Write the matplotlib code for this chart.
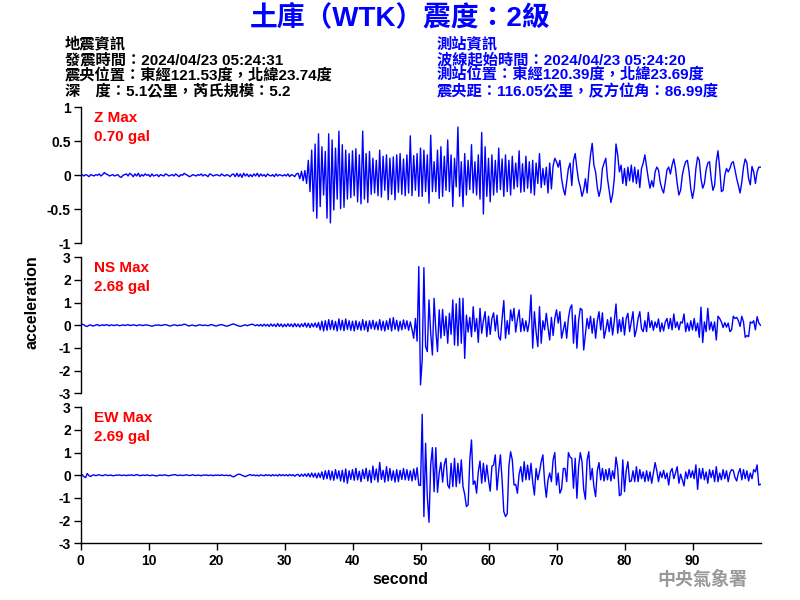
import numpy as np
import matplotlib
matplotlib.use("Agg")
import matplotlib.pyplot as plt

plt.rcParams['font.family'] = ['Liberation Sans', 'Noto Sans CJK TC', 'DejaVu Sans']
plt.rcParams['font.weight'] = 'bold'

# ---------------- data ----------------
SAMPLE_STEP = 0.25  # seconds between samples

z_accel = [
    0.00, 0.01, -0.01, 0.01, 0.00, -0.02, 0.01, 0.00, -0.01, 0.01, 0.00, 0.02, -0.01, 0.01, 0.04, 0.02, 0.01, -0.01, 0.00, 0.01,
    -0.01, 0.00, 0.01, -0.02, -0.03, 0.00, 0.01, 0.02, -0.01, 0.03, 0.01, -0.02, 0.02, -0.01, 0.03, -0.02, 0.01, -0.01, 0.02, 0.00,
    0.01, -0.02, 0.02, -0.01, 0.00, 0.01, -0.02, 0.01, 0.00, -0.01, 0.02, 0.01, -0.01, 0.00, 0.01, -0.01, 0.02, 0.00, -0.02, 0.01,
    0.00, 0.03, 0.01, 0.00, -0.02, -0.01, 0.01, 0.00, -0.01, 0.01, 0.00, 0.02, -0.01, 0.01, 0.00, -0.02, 0.02, 0.01, -0.01, 0.00,
    0.01, 0.00, -0.01, 0.02, 0.00, -0.01, 0.01, 0.00, -0.02, 0.01, 0.02, -0.02, 0.03, -0.02, 0.02, -0.03, 0.03, -0.01, 0.02, -0.02,
    0.01, -0.02, 0.02, -0.01, 0.03, -0.02, 0.02, -0.01, 0.01, -0.02, 0.02, 0.00, -0.01, 0.01, -0.02, 0.02, -0.01, 0.01, 0.00, -0.01,
    0.01, -0.01, 0.02, -0.02, 0.01, 0.00, -0.02, 0.02, 0.03, -0.05, 0.06, -0.08, 0.07, -0.12, 0.22, -0.24, 0.37, -0.53, 0.46, -0.63,
    0.61, -0.46, 0.42, -0.29, 0.35, -0.63, 0.61, -0.70, 0.52, -0.51, 0.40, -0.35, 0.65, -0.49, 0.45, -0.47, 0.37, -0.35, 0.32, -0.33,
    0.36, -0.30, 0.39, -0.39, 0.30, -0.42, 0.65, -0.35, 0.32, -0.40, 0.35, -0.28, 0.25, -0.26, 0.22, -0.30, 0.37, -0.32, 0.28, -0.22,
    0.30, -0.36, 0.25, -0.28, 0.27, -0.36, 0.30, -0.25, 0.32, -0.28, 0.24, -0.30, 0.30, -0.26, 0.58, -0.30, 0.29, -0.22, 0.32, -0.31,
    0.40, -0.31, 0.37, -0.24, 0.30, -0.41, 0.59, -0.24, 0.20, -0.24, 0.37, -0.34, 0.42, -0.31, 0.28, -0.22, 0.52, -0.24, 0.30, -0.46,
    0.25, -0.17, 0.71, -0.31, 0.20, -0.46, 0.32, -0.29, 0.22, -0.21, 0.45, -0.26, 0.20, -0.29, 0.30, -0.35, 0.63, -0.57, 0.42, -0.31,
    0.25, -0.39, 0.30, -0.29, 0.22, -0.25, 0.40, -0.21, 0.24, -0.31, 0.30, -0.24, 0.22, -0.29, 0.28, -0.20, 0.18, -0.17, 0.36, -0.25,
    0.17, -0.24, 0.28, -0.19, 0.20, -0.26, 0.22, -0.29, 0.18, -0.12, 0.32, -0.18, 0.10, -0.14, 0.12, -0.26, 0.18, -0.20, 0.14, 0.25,
    0.20, 0.12, 0.22, -0.05, -0.20, -0.29, -0.10, 0.10, 0.18, -0.15, 0.22, 0.32, 0.10, -0.08, -0.17, -0.31, -0.22, -0.05, -0.26, 0.06,
    0.30, 0.47, 0.15, 0.05, -0.18, -0.31, -0.20, 0.10, 0.18, 0.25, -0.05, -0.22, -0.40, -0.28, -0.05, 0.46, 0.30, 0.05, 0.15, -0.12,
    0.10, -0.15, 0.12, -0.08, 0.15, -0.10, 0.12, -0.12, 0.08, -0.18, 0.10, 0.18, 0.30, 0.12, -0.05, -0.19, -0.08, -0.17, 0.05, 0.12,
    0.08, -0.10, -0.20, -0.26, -0.10, 0.08, 0.12, 0.02, 0.15, 0.24, 0.10, -0.12, -0.29, -0.22, 0.00, 0.12, 0.20, 0.22, 0.05, -0.20,
    -0.34, -0.20, 0.10, 0.27, 0.22, -0.05, -0.19, -0.12, 0.08, 0.18, 0.20, -0.05, -0.22, -0.15, 0.20, 0.36, 0.10, -0.24, -0.22, 0.00,
    0.10, 0.05, 0.10, 0.18, 0.20, 0.08, -0.05, -0.15, -0.26, -0.10, 0.12, 0.24, 0.18, -0.05, -0.14, 0.13, 0.05, -0.12, 0.05, 0.12,
    0.12,
]

ns_accel = [
    0.03, 0.05, 0.02, -0.04, -0.05, 0.00, 0.02, -0.03, -0.02, 0.01, 0.03, -0.02, 0.00, 0.02, -0.01, 0.03, 0.01, -0.02, 0.02, 0.00,
    -0.01, 0.02, 0.01, -0.02, 0.00, 0.02, -0.01, 0.01, 0.03, -0.01, 0.00, 0.02, 0.01, -0.02, 0.01, 0.02, 0.00, -0.01, 0.02, 0.01,
    0.00, -0.02, -0.04, -0.02, 0.01, 0.00, 0.02, -0.01, 0.00, 0.02, 0.03, 0.01, -0.02, -0.03, 0.00, 0.02, 0.01, -0.02, 0.01, 0.00,
    0.02, 0.05, 0.03, -0.01, -0.03, 0.00, 0.01, -0.02, -0.03, 0.00, 0.02, 0.01, -0.01, 0.01, 0.00, -0.02, 0.01, 0.03, 0.01, -0.02,
    -0.03, 0.00, 0.02, 0.03, 0.01, -0.02, -0.04, -0.02, 0.01, 0.04, 0.06, 0.03, 0.00, -0.03, -0.05, -0.03, 0.00, 0.02, -0.02, 0.01,
    0.03, 0.05, 0.02, -0.02, 0.03, -0.03, 0.04, -0.04, 0.05, -0.03, 0.04, -0.05, 0.06, -0.04, 0.05, -0.06, 0.08, -0.05, 0.06, -0.07,
    0.05, -0.06, 0.07, -0.05, 0.06, -0.07, 0.08, -0.06, 0.06, -0.08, 0.07, -0.06, 0.10, -0.08, 0.09, -0.10, 0.08, -0.07, 0.10, -0.09,
    0.12, -0.20, 0.18, -0.25, 0.20, -0.22, 0.25, -0.18, 0.22, -0.20, 0.17, -0.25, 0.28, -0.20, 0.22, -0.24, 0.28, -0.18, 0.20, -0.22,
    0.18, -0.25, 0.20, -0.18, 0.15, -0.22, 0.25, -0.20, 0.18, -0.28, 0.20, -0.15, 0.22, -0.18, 0.15, -0.20, 0.25, -0.22, 0.18, -0.25,
    0.20, -0.18, 0.30, -0.25, 0.34, -0.18, 0.22, -0.25, 0.18, -0.20, 0.24, -0.15, 0.20, -0.22, 0.15, -0.18, -0.57, 0.30, -0.70, 2.59,
    -2.63, -1.53, 2.54, -0.94, -1.16, 1.12, -0.35, -1.31, 1.19, -0.20, -1.16, 0.68, -0.57, 0.70, -0.45, 0.40, -0.79, 0.53, -0.40, 1.12,
    -0.87, 0.95, -0.90, 1.19, -0.79, 1.19, -1.46, 0.45, -0.30, 0.35, -0.50, 0.82, -0.28, 0.30, -0.75, 0.75, -0.35, 0.20, 0.60, -0.50,
    0.40, -0.40, 0.30, 0.55, -0.25, 0.45, -0.50, -0.65, 0.30, 1.09, -0.57, 0.20, -0.40, 0.68, 0.20, 0.75, -0.30, 0.25, 0.68, -0.28,
    0.30, -0.25, 0.20, -0.28, 0.15, 1.34, -1.01, 0.60, -0.30, -0.94, 0.82, -0.79, 0.20, -0.20, 0.53, -0.10, -0.65, 0.35, -0.45, 0.30,
    0.68, 0.10, 0.60, -0.57, -0.20, 0.15, -0.57, 0.30, 0.75, 0.90, -0.79, 0.45, -1.01, 0.20, 0.75, 0.68, -1.09, -0.40, 0.30, -0.15,
    0.40, -0.35, 0.30, -0.57, 0.20, 0.60, -0.20, 0.55, -0.57, -0.20, 0.25, -0.28, 0.35, -0.43, 0.20, 0.94, -0.35, 0.25, -0.28, 0.35,
    -0.43, 0.30, 0.53, -0.28, 0.15, 0.60, -0.50, -0.20, 0.30, 0.60, -0.15, -0.28, 0.20, -0.28, 0.57, -0.10, 0.20, -0.22, 0.15, -0.10,
    0.28, -0.28, 0.10, -0.25, 0.15, 0.30, -0.15, 0.30, -0.20, 0.50, -0.10, 0.15, -0.20, 0.15, 0.10, 0.50, -0.28, 0.10, -0.25, 0.20,
    -0.20, 0.30, -0.25, 0.10, -0.53, 0.80, -0.76, 0.15, -0.28, 0.75, -0.20, 0.15, -0.25, 0.15, -0.65, 0.40, 0.30, 0.15, -0.10, 0.12,
    -0.08, 0.10, -0.28, -0.20, 0.40, 0.30, 0.35, 0.20, -0.05, 0.40, 0.15, -0.53, -0.45, -0.50, 0.15, 0.10, 0.20, -0.20, 0.38, 0.10,
    0.00,
]

ew_accel = [
    0.02, 0.03, -0.06, -0.10, 0.08, -0.02, -0.05, 0.00, 0.02, -0.02, 0.01, 0.02, 0.00, -0.02, 0.01, 0.02, -0.01, 0.00, 0.01, -0.02,
    -0.01, 0.01, 0.00, 0.02, -0.01, 0.00, 0.01, -0.02, 0.01, 0.00, 0.02, -0.01, 0.00, 0.03, 0.01, -0.02, 0.00, 0.01, -0.01, 0.02,
    0.00, -0.02, 0.01, 0.00, -0.02, -0.03, 0.00, 0.01, -0.01, 0.02, 0.01, -0.01, -0.02, 0.00, 0.01, 0.03, 0.02, -0.01, 0.00, 0.01,
    -0.01, 0.00, 0.02, 0.01, -0.01, 0.00, 0.02, 0.00, -0.01, 0.01, 0.00, -0.02, 0.01, 0.00, 0.02, -0.01, 0.00, 0.01, -0.02, 0.01,
    0.00, 0.01, -0.01, 0.02, 0.00, -0.01, 0.01, -0.02, 0.01, -0.04, -0.07, -0.03, 0.02, 0.05, 0.04, 0.00, -0.03, -0.06, -0.02, 0.01,
    0.03, -0.01, 0.02, -0.02, 0.01, -0.03, 0.02, 0.00, -0.02, 0.03, -0.01, 0.02, -0.03, 0.03, -0.02, 0.02, -0.03, 0.04, -0.02, 0.03,
    -0.02, 0.03, -0.03, 0.04, -0.02, 0.03, -0.04, 0.02, 0.04, -0.05, 0.05, -0.04, 0.06, -0.05, 0.08, -0.07, 0.10, -0.08, 0.09, -0.12,
    0.10, -0.10, 0.15, -0.18, 0.20, -0.15, 0.22, -0.20, 0.18, -0.22, 0.25, -0.15, 0.20, -0.25, 0.22, -0.30, 0.28, -0.35, 0.20, -0.18,
    0.25, -0.22, 0.31, -0.20, 0.18, -0.28, 0.25, -0.15, 0.31, -0.25, 0.22, -0.32, 0.41, -0.20, 0.28, -0.30, 0.57, -0.18, 0.22, -0.30,
    0.38, -0.25, 0.30, -0.22, 0.20, -0.30, 0.25, -0.28, 0.22, -0.18, 0.30, -0.20, 0.25, -0.22, 0.20, -0.25, 0.28, -0.20, 0.34, -0.43,
    -0.45, 2.69, -1.82, 1.41, -0.94, -2.07, 0.46, 1.22, -0.72, 1.22, -0.75, 0.10, 0.57, -0.30, 0.48, 0.75, -0.43, -0.57, 0.53, -0.50,
    0.75, -0.50, 0.53, -0.35, 0.68, -0.50, -0.84, -1.38, -1.30, 0.68, 1.56, -0.40, -0.25, -0.79, 0.15, 0.63, -0.35, 0.53, -0.28, 0.45,
    -0.20, -0.70, 0.40, 0.45, 0.90, -0.65, 0.20, 0.90, -0.20, -1.60, -1.82, -1.70, 0.40, 1.04, 0.68, -0.43, -0.40, -0.79, 0.05, 0.38,
    -0.28, 0.60, -0.20, 0.45, -0.20, 0.53, -0.30, -0.87, 0.30, -0.20, 0.15, 0.60, 0.90, -0.30, -0.97, -0.20, 0.10, -0.28, 0.68, 1.00,
    -0.43, 0.10, -0.79, -0.60, 0.30, 0.30, -0.28, 1.00, 0.80, 0.75, -0.57, 0.75, -1.01, 0.38, 1.00, 0.60, -0.62, -1.06, 0.68, 1.04,
    -0.20, 0.30, -0.50, -0.94, 0.20, 0.56, -0.20, 0.30, -0.25, 0.25, -0.20, 0.30, -0.25, 0.20, -0.15, 0.80, 0.30, -0.90, -0.85, 0.68,
    -0.72, 0.20, 0.60, -0.28, -0.25, 0.20, -0.28, 0.38, -0.28, 0.25, -0.15, 0.15, -0.28, 0.20, -0.25, 0.15, -0.35, 0.10, 0.56, 0.20,
    -0.28, 0.15, -0.10, 0.22, -0.15, 0.10, -0.43, 0.15, 0.30, -0.15, 0.10, 0.38, -0.35, 0.05, -0.20, -0.47, 0.15, -0.15, 0.25, -0.10,
    0.20, -0.15, 0.46, -0.62, 0.30, -0.15, 0.30, -0.20, 0.15, -0.35, 0.25, -0.10, 0.22, -0.28, 0.38, -0.28, 0.10, -0.20, 0.25, -0.15,
    0.20, -0.28, 0.10, 0.25, 0.22, -0.10, -0.25, 0.10, 0.30, -0.20, 0.25, -0.15, 0.20, -0.25, 0.10, -0.15, 0.25, 0.15, 0.46, -0.43,
    -0.40,
]

components = ["Z", "NS", "EW"]
peak_gal = [0.70, 2.68, 2.69]
y_limits = [(-1, 1), (-3, 3), (-3, 3)]
y_ticks = [[-1, -0.5, 0, 0.5, 1], [-3, -2, -1, 0, 1, 2, 3], [-3, -2, -1, 0, 1, 2, 3]]
y_ticklabels = [["-1", "-0.5", "0", "0.5", "1"],
                ["-3", "-2", "-1", "0", "1", "2", "3"],
                ["-3", "-2", "-1", "0", "1", "2", "3"]]
x_ticks = [0, 10, 20, 30, 40, 50, 60, 70, 80, 90]

title_text = "土庫（WTK）震度：2級"
quake_info = ["地震資訊",
              "發震時間：2024/04/23 05:24:31",
              "震央位置：東經121.53度，北緯23.74度",
              "深　度：5.1公里，芮氏規模：5.2"]
station_info = ["測站資訊",
                "波線起始時間：2024/04/23 05:24:20",
                "測站位置：東經120.39度，北緯23.69度",
                "震央距：116.05公里，反方位角：86.99度"]

# ---------------- figure ----------------
W, H = 800, 600
fig = plt.figure(figsize=(8, 6), dpi=100)
fig.patch.set_facecolor("white")

BLUE = "#0000ff"
RED = "#ff0000"

def fx(px):
    return px / W

def fy(py):
    return 1 - py / H

fig.text(fx(400), fy(18), title_text, color=BLUE, fontsize=20, fontweight="bold",
         ha="center", va="center")

line_y = [44, 60, 75.5, 91]
for txt, yy in zip(quake_info, line_y):
    fig.text(fx(65), fy(yy), txt, color="black", fontsize=11, fontweight="bold",
             ha="left", va="center")
for txt, yy in zip(station_info, line_y):
    fig.text(fx(437), fy(yy), txt, color=BLUE, fontsize=11, fontweight="bold",
             ha="left", va="center")

traces = [z_accel, ns_accel, ew_accel]
panel_tops = [107.3, 257.3, 407.3]
panel_h = 136.0
ax_left, ax_w = 80.5, 680.0

for i, (tr, comp) in enumerate(zip(traces, components)):
    top = panel_tops[i]
    ax = fig.add_axes([fx(ax_left), fy(top + panel_h), ax_w / W, panel_h / H])
    vals = np.asarray(tr, dtype=float)
    t = np.arange(len(vals)) * SAMPLE_STEP
    ax.plot(t, vals, color=BLUE, lw=1.0)
    ax.set_xlim(0, 100)
    ax.set_ylim(*y_limits[i])
    ax.set_yticks(y_ticks[i])
    ax.set_yticklabels(y_ticklabels[i])
    ax.set_facecolor("none")
    for s in ["top", "right"]:
        ax.spines[s].set_visible(False)
    ax.spines["left"].set_linewidth(1.0)
    ax.tick_params(axis="y", direction="out", length=5, width=1, labelsize=10, pad=2)
    if i < 2:
        ax.spines["bottom"].set_visible(False)
        ax.set_xticks([])
    else:
        ax.spines["bottom"].set_linewidth(1.0)
        ax.set_xticks(x_ticks)
        ax.set_xticklabels([str(v) for v in x_ticks])
        ax.tick_params(axis="x", direction="out", length=5, width=1, labelsize=10, pad=3)
    for lab in ax.get_xticklabels() + ax.get_yticklabels():
        lab.set_fontweight("bold")
    fig.text(fx(94), fy(top + 10.5), f"{comp} Max", color=RED, fontsize=11,
             fontweight="bold", ha="left", va="center")
    fig.text(fx(94), fy(top + 30), f"{peak_gal[i]:.2f} gal", color=RED, fontsize=11,
             fontweight="bold", ha="left", va="center")

fig.text(fx(32), fy(302), "acceleration", rotation=90, fontsize=11.5, fontweight="bold",
         ha="center", va="center")
fig.text(fx(400), fy(580), "second", fontsize=11.5, fontweight="bold",
         ha="center", va="center")
fig.text(fx(702), fy(580), "中央氣象署", fontsize=13, fontweight="bold", color="#999999",
         ha="center", va="center")

fig.savefig("out.png", dpi=100)
